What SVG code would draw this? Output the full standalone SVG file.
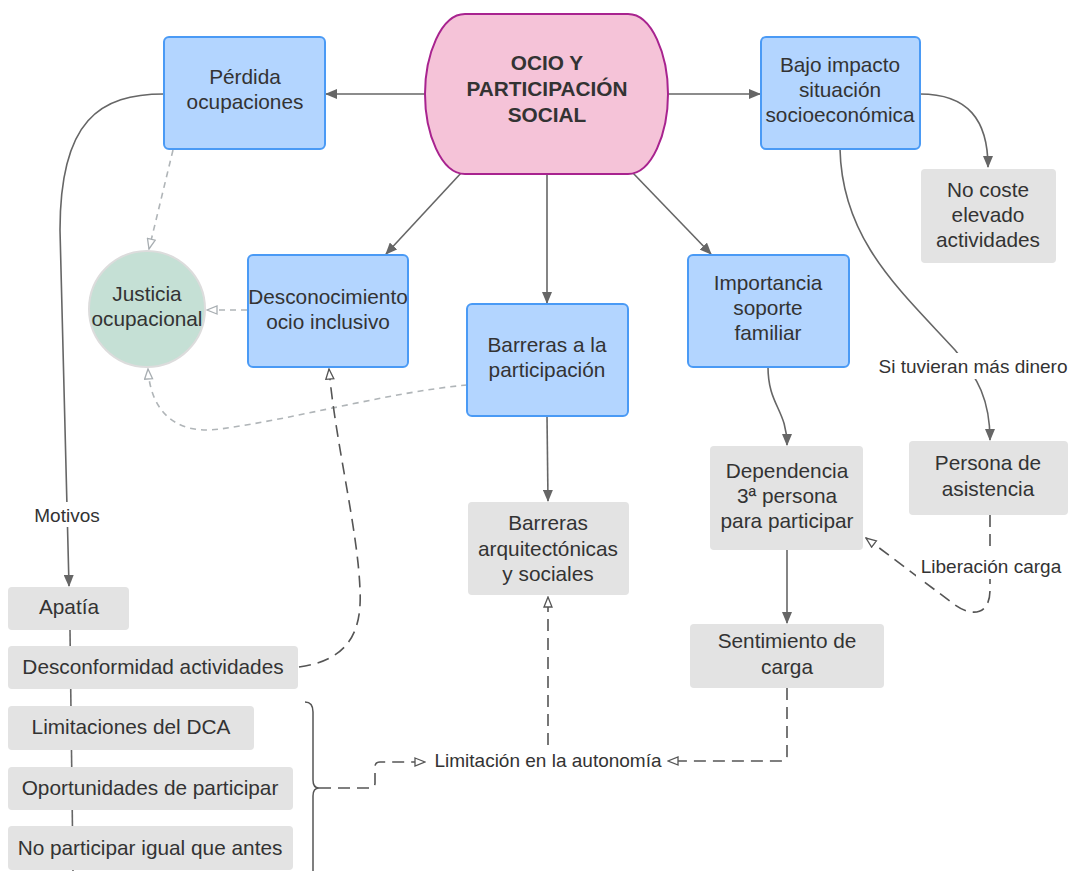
<svg xmlns="http://www.w3.org/2000/svg" width="1072" height="871" viewBox="0 0 1072 871">
<style>
text{font-family:"Liberation Sans",Arial,sans-serif;fill:#333;text-anchor:middle}
.t{font-size:20.8px}
.lb{font-size:19px}
.b{font-weight:bold;font-size:20.8px}
.blue{fill:#b3d5ff;stroke:#4a9af5;stroke-width:2}
.grey{fill:#e3e3e3}
.c{fill:none;stroke:#666;stroke-width:1.6}
.dl{fill:none;stroke:#b0b5b8;stroke-width:1.6;stroke-dasharray:6 5}
.dd{fill:none;stroke:#555;stroke-width:1.6;stroke-dasharray:12 7}
</style>
<defs>
<marker id="a" viewBox="0 0 12 10" refX="11" refY="5" markerWidth="12" markerHeight="10" orient="auto" markerUnits="userSpaceOnUse"><path d="M0,0 L12,5 L0,10 Z" fill="#666"/></marker>
<marker id="hl" viewBox="0 0 12 10" refX="11" refY="5" markerWidth="12" markerHeight="10" orient="auto" markerUnits="userSpaceOnUse"><path d="M1,1 L11,5 L1,9 Z" fill="#fff" stroke="#a8aeb2" stroke-width="1.3"/></marker>
<marker id="hd" viewBox="0 0 12 10" refX="11" refY="5" markerWidth="12" markerHeight="10" orient="auto" markerUnits="userSpaceOnUse"><path d="M1,1 L11,5 L1,9 Z" fill="#fff" stroke="#555" stroke-width="1.3"/></marker>
</defs>

<g id="connectors">
<line class="c" x1="425" y1="94" x2="326" y2="94" marker-end="url(#a)"/>
<line class="c" x1="668" y1="94" x2="760" y2="94" marker-end="url(#a)"/>
<line class="c" x1="462" y1="172" x2="386" y2="254" marker-end="url(#a)"/>
<line class="c" x1="547" y1="174" x2="547" y2="303" marker-end="url(#a)"/>
<line class="c" x1="632" y1="172" x2="711" y2="254" marker-end="url(#a)"/>
<path class="c" d="M164,94 C100,94 60,120 60,230 L69,586" marker-end="url(#a)"/>
<path class="dl" d="M173,150 L149,249" marker-end="url(#hl)"/>
<path class="dl" d="M247,310 L207,310" marker-end="url(#hl)"/>
<path class="dl" d="M467,385 C390,392 300,418 220,429 C170,436 150,405 148,369" marker-end="url(#hl)"/>
<path class="dd" d="M299,667 C350,660 362,630 360,590 C358,530 335,440 329,369" marker-end="url(#hd)"/>
<path class="c" d="M920,94 C968,94 988,120 988,167" marker-end="url(#a)"/>
<path class="c" d="M840,149 C842,240 900,290 955,350 C978,378 990,400 990,440" marker-end="url(#a)"/>
<path class="c" d="M768,367 C768,405 787,410 787,445" marker-end="url(#a)"/>
<line class="c" x1="547" y1="416" x2="548" y2="501" marker-end="url(#a)"/>
<line class="c" x1="787" y1="550" x2="787" y2="623" marker-end="url(#a)"/>
<path class="dd" d="M990,515 L990,590 C990,615 972,617 955,605 L866,538" marker-end="url(#hd)"/>
<line class="c" x1="70" y1="630" x2="73" y2="871"/>
<path fill="none" stroke="#555" stroke-width="1.5" d="M305,702 C311,702 313,706 313,712 L313,780 C313,785 315,788 319,788 C315,788 313,791 313,796 L313,871"/>
<path class="dd" d="M319,788 H370 Q375,788 375,783 V767 Q375,762 380,762 H425" marker-end="url(#hd)"/>
<path class="dd" d="M787,688 V756 Q787,761 782,761 H668" marker-end="url(#hd)"/>
<path class="dd" d="M548,745 V597" marker-end="url(#hd)"/>
<rect x="29" y="502" width="77" height="25" fill="#fff"/>
<text class="lb" x="67" y="522">Motivos</text>
<rect x="874" y="353" width="198" height="26" fill="#fff"/>
<text class="lb" x="973" y="373">Si tuvieran más dinero</text>
<rect x="916" y="553" width="150" height="26" fill="#fff"/>
<text class="lb" x="991" y="573">Liberación carga</text>
</g>

<g id="central">
<path d="M465,14 H628 C652,14 668,55 668,94 C668,133 652,174 628,174 H465 C441,174 425,133 425,94 C425,55 441,14 465,14 Z" fill="#f5c3d8" stroke="#a8238f" stroke-width="2"/>
<text class="b" x="547" y="70">OCIO Y</text>
<text class="b" x="547" y="96">PARTICIPACIÓN</text>
<text class="b" x="547" y="122">SOCIAL</text>
</g>
<g id="perdida">
<rect class="blue" x="164" y="37" width="161" height="112" rx="5"/>
<text class="t" x="245" y="84">Pérdida</text>
<text class="t" x="245" y="109">ocupaciones</text>
</g>
<g id="bajo">
<rect class="blue" x="761" y="37" width="159" height="112" rx="5"/>
<text class="t" x="840" y="72">Bajo impacto</text>
<text class="t" x="840" y="97">situación</text>
<text class="t" x="840" y="122">socioeconómica</text>
</g>
<g id="desconocimiento">
<rect class="blue" x="248" y="255" width="160" height="112" rx="5"/>
<text class="t" x="328" y="304">Desconocimiento</text>
<text class="t" x="328" y="329">ocio inclusivo</text>
</g>
<g id="barreras">
<rect class="blue" x="467" y="304" width="161" height="112" rx="5"/>
<text class="t" x="547" y="352">Barreras a la</text>
<text class="t" x="547" y="377">participación</text>
</g>
<g id="importancia">
<rect class="blue" x="688" y="255" width="161" height="112" rx="5"/>
<text class="t" x="768" y="290">Importancia</text>
<text class="t" x="768" y="315">soporte</text>
<text class="t" x="768" y="340">familiar</text>
</g>
<g id="justicia">
<circle cx="147" cy="309" r="58" fill="#c5e0d5" stroke="#dcdcdc" stroke-width="2"/>
<text class="t" x="147" y="301">Justicia</text>
<text class="t" x="147" y="326">ocupacional</text>
</g>
<g id="nocoste">
<rect class="grey" x="921" y="169" width="135" height="94" rx="4"/>
<text class="t" x="988" y="197">No coste</text>
<text class="t" x="988" y="222">elevado</text>
<text class="t" x="988" y="247">actividades</text>
</g>
<g id="barrerasarq">
<rect class="grey" x="468" y="502" width="161" height="93" rx="4"/>
<text class="t" x="548" y="530">Barreras</text>
<text class="t" x="548" y="556">arquitectónicas</text>
<text class="t" x="548" y="581">y sociales</text>
</g>
<g id="dependencia">
<rect class="grey" x="710" y="446" width="153" height="104" rx="4"/>
<text class="t" x="787" y="478">Dependencia</text>
<text class="t" x="787" y="503">3ª persona</text>
<text class="t" x="787" y="528">para participar</text>
</g>
<g id="persona">
<rect class="grey" x="909" y="441" width="159" height="74" rx="4"/>
<text class="t" x="988" y="470">Persona de</text>
<text class="t" x="988" y="496">asistencia</text>
</g>
<g id="sentimiento">
<rect class="grey" x="690" y="624" width="194" height="64" rx="4"/>
<text class="t" x="787" y="648">Sentimiento de</text>
<text class="t" x="787" y="674">carga</text>
</g>
<g id="apatia">
<rect class="grey" x="8" y="587" width="121" height="43" rx="4"/>
<text class="t" x="69" y="614">Apatía</text>
</g>
<g id="desconformidad">
<rect class="grey" x="8" y="646" width="290" height="43" rx="4"/>
<text class="t" x="153" y="674">Desconformidad actividades</text>
</g>
<g id="limitaciones">
<rect class="grey" x="8" y="706" width="246" height="44" rx="4"/>
<text class="t" x="131" y="734">Limitaciones del DCA</text>
</g>
<g id="oportunidades">
<rect class="grey" x="8" y="767" width="285" height="43" rx="4"/>
<text class="t" x="150" y="795">Oportunidades de participar</text>
</g>
<g id="noparticipar">
<rect class="grey" x="8" y="826" width="285" height="44" rx="4"/>
<text class="t" x="150" y="855">No participar igual que antes</text>
</g>
<g id="limitacion">
<text class="lb" x="548" y="767">Limitación en la autonomía</text>
</g>
</svg>
